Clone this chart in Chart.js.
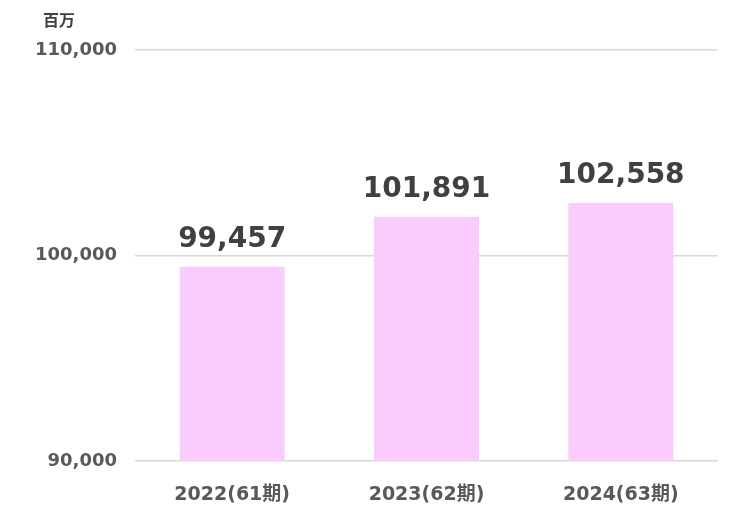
<!DOCTYPE html>
<html>
<head>
<meta charset="utf-8">
<script src="https://cdn.jsdelivr.net/npm/chart.js@4/dist/chart.umd.min.js"></script>
<style>
  html, body { margin: 0; padding: 0; background: #fff; }
  #wrap { width: 743px; height: 515px; }
</style>
</head>
<body>
<div id="wrap"><canvas id="c" width="743" height="515"></canvas></div>
<script>
// データ
var years = ['2022(61期)', '2023(62期)', '2024(63期)'];
var sales = [99457, 101891, 102558];
var yMin = 90000;
var yMax = 110000;
var yStep = 10000;
var unitLabel = '百万';

var FONT = '"DejaVu Sans", "Noto Sans CJK JP", sans-serif';

// 棒の上に数値を描く
var valueLabels = {
  id: 'valueLabels',
  afterDatasetsDraw: function(chart) {
    var ctx = chart.ctx;
    var meta = chart.getDatasetMeta(0);
    ctx.save();
    ctx.font = 'bold 28px ' + FONT;
    ctx.fillStyle = '#404040';
    ctx.textAlign = 'center';
    ctx.textBaseline = 'alphabetic';
    meta.data.forEach(function(bar, i) {
      ctx.fillText(sales[i].toLocaleString('en-US'), bar.x, bar.y - 20);
    });
    ctx.restore();
  }
};

// 単位（左上）
var unitText = {
  id: 'unitText',
  afterDraw: function(chart) {
    var ctx = chart.ctx;
    ctx.save();
    ctx.font = 'bold 16px ' + FONT;
    ctx.fillStyle = '#404040';
    ctx.textAlign = 'center';
    ctx.textBaseline = 'middle';
    ctx.fillText(unitLabel, 59, 22);
    ctx.restore();
  }
};

new Chart(document.getElementById('c'), {
  type: 'bar',
  data: {
    labels: years,
    datasets: [{
      data: sales,
      backgroundColor: '#FACBFD',
      borderWidth: 0,
      barPercentage: 0.54,
      categoryPercentage: 1
    }]
  },
  options: {
    responsive: false,
    animation: false,
    layout: { padding: { left: 0, top: 50, right: 25, bottom: 0 } },
    plugins: { legend: { display: false }, tooltip: { enabled: false } },
    scales: {
      x: {
        grid: { display: false },
        border: { display: false },
        ticks: { color: '#595959', font: { family: FONT, size: 19, weight: 'bold' }, padding: 15 },
        afterFit: function(scale) { scale.height = 54; }
      },
      y: {
        min: yMin,
        max: yMax,
        grid: { color: '#d9d9d9', lineWidth: 1.5, drawTicks: false },
        border: { display: false },
        ticks: {
          stepSize: yStep,
          color: '#595959',
          font: { family: FONT, size: 18, weight: 'bold' },
          padding: 18,
          callback: function(v) { return v.toLocaleString('en-US'); }
        },
        afterFit: function(scale) { scale.width = 135; }
      }
    }
  },
  plugins: [valueLabels, unitText]
});
</script>
</body>
</html>
